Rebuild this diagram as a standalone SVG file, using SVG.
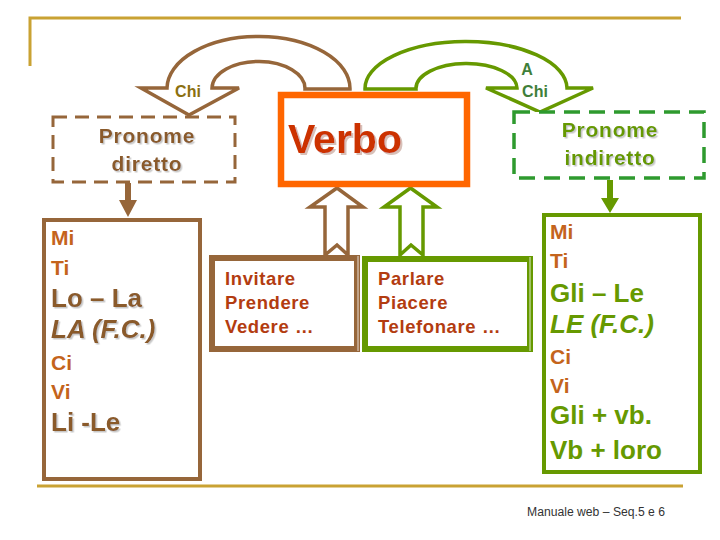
<svg xmlns="http://www.w3.org/2000/svg" width="720" height="540" viewBox="0 0 720 540">
<defs>
<filter id="sh" x="-10%" y="-10%" width="130%" height="140%">
<feDropShadow dx="1.5" dy="1.5" stdDeviation="0.4" flood-color="#c8c8c8" flood-opacity="1"/>
</filter>
<filter id="sh2" x="-10%" y="-10%" width="130%" height="140%">
<feDropShadow dx="2" dy="2" stdDeviation="0.5" flood-color="#d8c0b8" flood-opacity="1"/>
</filter>
<style>
text{font-family:"Liberation Sans",Arial,sans-serif;font-weight:bold}
.gold{stroke:#C9A233;stroke-width:3;fill:none}
.brown{stroke:#96663A}
.green{stroke:#669900}
.dashB{fill:#fff;stroke:#96663A;stroke-width:3;stroke-dasharray:14 8}
.dashG{fill:#fff;stroke:#2E9A2E;stroke-width:3.5;stroke-dasharray:16 9}
.pr{font-size:21px;text-anchor:middle;letter-spacing:0.8px}
.or{fill:#C4641C;font-size:21px}
.bl{fill:#8A5A2C;font-size:26px}
.gl{fill:#669900;font-size:26px}
.mid{fill:#B33C10;font-size:18.5px;letter-spacing:0.6px}
.lbl{font-size:16px;text-anchor:middle}
</style>
</defs>
<rect width="720" height="540" fill="#fff"/>
<g id="frame">
<path class="gold" d="M30 66 V18 H681"/>
<path class="gold" d="M37 486 H683"/>
</g>
<g id="connectors">
<path d="M350 89 A91.5 52 0 0 0 167 88 L141 88 L189 115 L239 88 L212 88 A46.5 27 0 0 1 305 89 Z" fill="#fff" class="brown" stroke-width="3.5" stroke-linejoin="miter"/>
<path d="M365 89 A101 47 0 0 1 567 88 L593 88 L540 112 L486 88 L517 88 A50.5 25 0 0 0 416 89 Z" fill="#fff" class="green" stroke-width="3.5"/>
<path d="M125 183 H131 V200 H137 L128 217 L119 200 H125 Z" fill="#96663A"/>
<path d="M607 180 H613 V198 H619 L610 213 L601 198 H607 Z" fill="#669900"/>
<path d="M325 255 V207 H310 L337 188 L363 207 H348 V255 L337 245 Z" fill="#fff" class="brown" stroke-width="3.5"/>
<path d="M400 255 V207 H384 L410.5 188 L437 207 H423 V255 L411 245 Z" fill="#fff" class="green" stroke-width="3.5"/>
<text x="188" y="97" class="lbl" fill="#8B7010">Chi</text>
<text x="527" y="75" class="lbl" fill="#3F7F3A">A</text>
<text x="535" y="97" class="lbl" fill="#3F7F3A">Chi</text>
</g>
<g id="verbo">
<rect x="281" y="95" width="186" height="89" fill="#fff" stroke="#FF6600" stroke-width="6.5"/>
<text x="288" y="153" font-size="41" fill="#CC3300" filter="url(#sh2)">Verbo</text>
</g>
<g id="pronome-diretto">
<rect x="53" y="117" width="182" height="65" class="dashB"/>
<text x="147" y="143" class="pr" fill="#8A5A2C" filter="url(#sh)">Pronome</text>
<text x="147" y="171" class="pr" fill="#8A5A2C" filter="url(#sh)">diretto</text>
</g>
<g id="pronome-indiretto">
<rect x="514" y="112" width="190" height="66" class="dashG"/>
<text x="610" y="137" class="pr" fill="#669900" filter="url(#sh)">Pronome</text>
<text x="610" y="165" class="pr" fill="#669900" filter="url(#sh)">indiretto</text>
</g>
<g id="lista-diretto">
<rect x="44" y="220" width="156" height="259" fill="#fff" stroke="#96663A" stroke-width="4"/>
<text x="51" y="245" class="or">Mi</text>
<text x="51" y="275" class="or">Ti</text>
<text x="51" y="307" class="bl" filter="url(#sh)">Lo – La</text>
<text x="51" y="338" class="bl" font-style="italic" filter="url(#sh)">LA (F.C.)</text>
<text x="51" y="370" class="or">Ci</text>
<text x="51" y="399" class="or">Vi</text>
<text x="51" y="431" class="bl" filter="url(#sh)">Li -Le</text>
</g>
<g id="lista-indiretto">
<rect x="544" y="215" width="156" height="257" fill="#fff" stroke="#669900" stroke-width="4"/>
<text x="550" y="239" class="or">Mi</text>
<text x="550" y="268" class="or">Ti</text>
<text x="550" y="302" class="gl">Gli – Le</text>
<text x="550" y="333" class="gl" font-style="italic">LE (F.C.)</text>
<text x="550" y="364" class="or">Ci</text>
<text x="550" y="393" class="or">Vi</text>
<text x="550" y="424" class="gl">Gli + vb.</text>
<text x="550" y="459" class="gl">Vb + loro</text>
</g>
<g id="verbi-diretti">
<rect x="212" y="258" width="145" height="91" fill="#fff" stroke="#96663A" stroke-width="6"/>
<line x1="358" y1="256" x2="358" y2="351" stroke="#fff" stroke-width="0.8"/>
<text x="225" y="285" class="mid">Invitare</text>
<text x="225" y="309" class="mid">Prendere</text>
<text x="225" y="333" class="mid">Vedere …</text>
</g>
<g id="verbi-indiretti">
<rect x="365" y="259" width="165" height="90" fill="#fff" stroke="#669900" stroke-width="6"/>
<line x1="530" y1="257" x2="530" y2="351" stroke="#fff" stroke-width="0.8"/>
<text x="378" y="285" class="mid">Parlare</text>
<text x="378" y="309" class="mid">Piacere</text>
<text x="378" y="333" class="mid">Telefonare …</text>
</g>
<g id="footer">
<text x="527" y="516" font-size="12" fill="#333" style="font-weight:normal" textLength="138" lengthAdjust="spacingAndGlyphs">Manuale web – Seq.5 e 6</text>
</g>
</svg>
